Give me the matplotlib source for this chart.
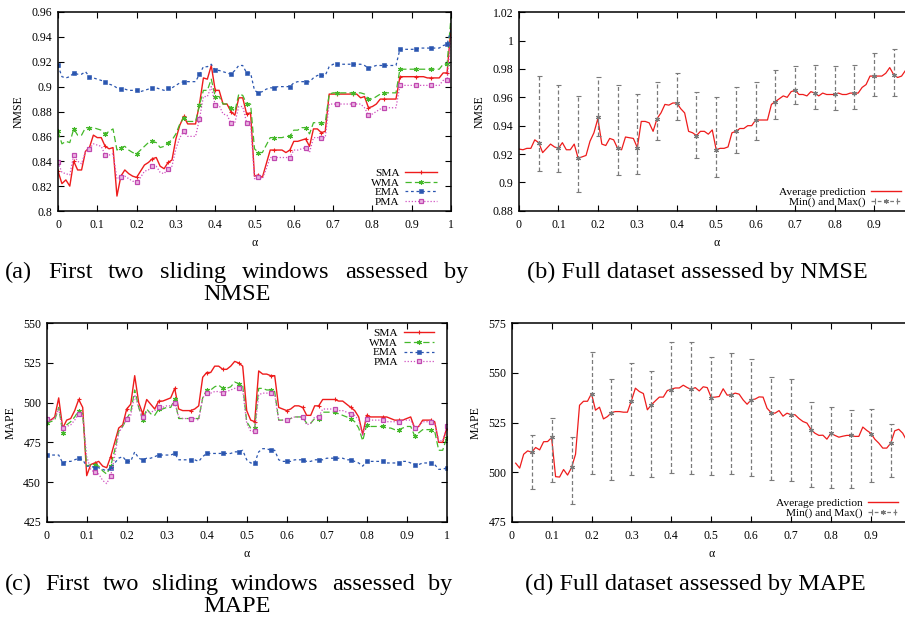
import numpy as np
import matplotlib
matplotlib.use("Agg")
import matplotlib.pyplot as plt
from matplotlib.lines import Line2D
from matplotlib.ticker import FuncFormatter, MultipleLocator
from matplotlib.legend_handler import HandlerTuple, HandlerLine2D

# ---------------- data ----------------
alpha = np.linspace(0, 1, 101)

a_sma = [0.832, 0.822, 0.825, 0.820, 0.840, 0.833, 0.833, 0.848, 0.851, 0.861,
         0.859, 0.859, 0.852, 0.850, 0.851, 0.812, 0.828, 0.833, 0.830, 0.828,
         0.827, 0.832, 0.837, 0.839, 0.842, 0.843, 0.836, 0.834, 0.839, 0.841,
         0.858, 0.869, 0.876, 0.870, 0.870, 0.870, 0.886, 0.907, 0.906, 0.917,
         0.897, 0.897, 0.886, 0.886, 0.880, 0.877, 0.891, 0.891, 0.878, 0.879,
         0.828, 0.829, 0.827, 0.838, 0.849, 0.849, 0.849, 0.849, 0.847, 0.849,
         0.856, 0.856, 0.857, 0.858, 0.852, 0.866, 0.866, 0.863, 0.864, 0.894,
         0.894, 0.894, 0.894, 0.894, 0.894, 0.894, 0.894, 0.891, 0.892, 0.883,
         0.884, 0.886, 0.890, 0.890, 0.890, 0.890, 0.890, 0.908, 0.908, 0.908,
         0.908, 0.908, 0.908, 0.908, 0.907, 0.907, 0.907, 0.907, 0.911, 0.911,
         0.948]
a_wma = [0.864, 0.854, 0.856, 0.855, 0.866, 0.861, 0.861, 0.867, 0.867, 0.867,
         0.866, 0.865, 0.862, 0.864, 0.866, 0.849, 0.851, 0.852, 0.849, 0.847,
         0.846, 0.849, 0.852, 0.855, 0.856, 0.855, 0.851, 0.852, 0.855, 0.857,
         0.862, 0.870, 0.875, 0.872, 0.872, 0.872, 0.885, 0.897, 0.897, 0.906,
         0.892, 0.892, 0.886, 0.886, 0.883, 0.880, 0.894, 0.893, 0.886, 0.886,
         0.850, 0.847, 0.847, 0.853, 0.859, 0.859, 0.859, 0.859, 0.860, 0.860,
         0.865, 0.865, 0.867, 0.867, 0.862, 0.871, 0.871, 0.871, 0.871, 0.894,
         0.895, 0.895, 0.895, 0.895, 0.895, 0.895, 0.895, 0.895, 0.894, 0.890,
         0.890, 0.892, 0.894, 0.895, 0.895, 0.895, 0.895, 0.914, 0.914, 0.914,
         0.914, 0.914, 0.914, 0.914, 0.914, 0.914, 0.914, 0.914, 0.918, 0.918,
         0.956]
a_ema = [0.917, 0.908, 0.907, 0.908, 0.911, 0.910, 0.910, 0.912, 0.908, 0.907,
         0.906, 0.905, 0.904, 0.902, 0.901, 0.899, 0.898, 0.898, 0.897, 0.897,
         0.897, 0.896, 0.897, 0.898, 0.899, 0.899, 0.898, 0.897, 0.899, 0.899,
         0.901, 0.903, 0.904, 0.904, 0.904, 0.904, 0.910, 0.916, 0.916, 0.918,
         0.913, 0.913, 0.912, 0.911, 0.910, 0.913, 0.917, 0.917, 0.911, 0.911,
         0.897, 0.895, 0.896, 0.898, 0.899, 0.899, 0.900, 0.900, 0.900, 0.900,
         0.903, 0.904, 0.904, 0.904, 0.904, 0.907, 0.909, 0.909, 0.909, 0.916,
         0.918, 0.918, 0.918, 0.918, 0.918, 0.918, 0.918, 0.918, 0.917, 0.915,
         0.916, 0.917, 0.917, 0.917, 0.917, 0.917, 0.917, 0.930, 0.930, 0.930,
         0.930, 0.930, 0.931, 0.931, 0.931, 0.931, 0.931, 0.931, 0.933, 0.934,
         0.946]
a_pma = [0.839, 0.831, 0.830, 0.829, 0.845, 0.840, 0.838, 0.848, 0.850, 0.854,
         0.853, 0.852, 0.845, 0.845, 0.846, 0.826, 0.827, 0.828, 0.826, 0.824,
         0.823, 0.827, 0.832, 0.833, 0.836, 0.836, 0.831, 0.830, 0.834, 0.836,
         0.850, 0.859, 0.864, 0.860, 0.860, 0.860, 0.874, 0.892, 0.892, 0.900,
         0.885, 0.885, 0.878, 0.877, 0.871, 0.871, 0.884, 0.884, 0.871, 0.871,
         0.826, 0.827, 0.826, 0.834, 0.843, 0.843, 0.843, 0.843, 0.843, 0.843,
         0.849, 0.849, 0.850, 0.851, 0.847, 0.859, 0.859, 0.859, 0.859, 0.886,
         0.886, 0.886, 0.886, 0.886, 0.886, 0.886, 0.886, 0.886, 0.883, 0.877,
         0.878, 0.880, 0.882, 0.883, 0.883, 0.883, 0.883, 0.901, 0.901, 0.901,
         0.901, 0.901, 0.901, 0.901, 0.901, 0.901, 0.901, 0.901, 0.905, 0.905,
         0.940]

b_avg = [0.9235, 0.923, 0.924, 0.924, 0.930, 0.928, 0.921, 0.924, 0.927, 0.925,
         0.924, 0.928, 0.923, 0.923, 0.927, 0.917, 0.918, 0.919, 0.929, 0.935,
         0.945, 0.927, 0.926, 0.931, 0.930, 0.924, 0.923, 0.932, 0.9315, 0.931,
         0.9245, 0.943, 0.943, 0.942, 0.936, 0.945, 0.949, 0.955, 0.9545, 0.956,
         0.956, 0.952, 0.949, 0.936, 0.935, 0.933, 0.936, 0.936, 0.934, 0.937,
         0.923, 0.924, 0.924, 0.925, 0.935, 0.936, 0.938, 0.938, 0.940, 0.940,
         0.944, 0.944, 0.944, 0.944, 0.955, 0.957, 0.959, 0.961, 0.960, 0.964,
         0.965, 0.962, 0.962, 0.961, 0.964, 0.963, 0.961, 0.963, 0.962, 0.962,
         0.962, 0.963, 0.962, 0.962, 0.963, 0.963, 0.963, 0.967, 0.969, 0.975,
         0.975, 0.975, 0.975, 0.977, 0.981, 0.976, 0.974, 0.975, 0.979, 0.980,
         0.980]
bar_alpha = [0.05, 0.10, 0.15, 0.20, 0.25, 0.30, 0.35, 0.40, 0.45, 0.50,
             0.55, 0.60, 0.65, 0.70, 0.75, 0.80, 0.85, 0.90, 0.95]
b_mid = [0.928, 0.924, 0.917, 0.946, 0.924, 0.924, 0.945, 0.956, 0.933, 0.923,
         0.936, 0.944, 0.957, 0.965, 0.963, 0.962, 0.963, 0.975, 0.976]
b_max = [0.975, 0.969, 0.961, 0.974, 0.969, 0.962, 0.971, 0.977, 0.964, 0.960,
         0.967, 0.971, 0.979, 0.982, 0.983, 0.982, 0.983, 0.991, 0.994]
b_min = [0.908, 0.907, 0.893, 0.933, 0.905, 0.906, 0.930, 0.944, 0.917, 0.904,
         0.921, 0.930, 0.945, 0.955, 0.952, 0.951, 0.952, 0.961, 0.961]

c_sma = [490, 489, 491, 503, 484, 489, 490, 495, 502, 497,
         454, 461, 462, 463, 460, 459, 466, 475, 484, 486,
         496, 499, 517, 500, 493, 502, 499, 496, 501, 501,
         502, 503, 509, 496, 495, 495, 495, 496, 498, 516,
         519, 519, 523, 523, 521, 521, 523, 526, 525, 523,
         495, 489, 488, 520, 518, 518, 517, 517, 497, 496,
         495, 496, 498, 498, 497, 492, 492, 498, 498, 502,
         502, 502, 502, 501, 501, 499, 497, 495, 491, 480,
         492, 491, 491, 491, 491, 491, 490, 489, 489, 489,
         490, 491, 484, 485, 489, 489, 489, 488, 475, 475,
         484]
c_wma = [487, 488, 489, 497, 481, 486, 488, 491, 495, 493,
         460, 461, 461, 460, 457, 455, 460, 470, 482, 485,
         490, 494, 508, 497, 489, 496, 493, 492, 496, 496,
         497, 497, 502, 490, 490, 490, 490, 490, 490, 503,
         508, 508, 510, 511, 509, 509, 510, 513, 512, 511,
         488, 484, 484, 509, 509, 508, 508, 507, 489, 489,
         489, 490, 491, 491, 491, 487, 487, 490, 490, 494,
         494, 494, 494, 493, 492, 491, 490, 488, 484, 476,
         486, 485, 485, 485, 485, 484, 484, 483, 483, 484,
         485, 485, 479, 481, 483, 483, 483, 482, 470, 470,
         478]
c_ema = [467, 467, 467, 467, 462, 463, 463, 464, 465, 464,
         460, 460, 459, 459, 458, 457, 459, 462, 465, 466,
         463, 463, 469, 465, 464, 465, 465, 466, 467, 467,
         467, 467, 468, 464, 464, 464, 464, 464, 463, 466,
         468, 468, 468, 468, 468, 468, 468, 469, 469, 470,
         464, 462, 462, 469, 471, 471, 470, 470, 464, 463,
         463, 463, 464, 464, 464, 463, 463, 464, 464, 464,
         465, 465, 465, 465, 465, 464, 464, 463, 462, 460,
         463, 463, 463, 463, 463, 462, 462, 462, 462, 463,
         463, 462, 461, 461, 462, 462, 462, 461, 458, 458,
         459]
c_pma = [490, 489, 490, 496, 484, 485, 486, 489, 493, 492,
         466, 458, 456, 455, 451, 449, 454, 466, 481, 485,
         490, 492, 505, 497, 491, 494, 494, 495, 497, 497,
         498, 498, 500, 491, 490, 490, 490, 490, 489, 503,
         506, 506, 507, 507, 506, 507, 508, 509, 509, 508,
         487, 482, 482, 505, 506, 506, 506, 505, 489, 489,
         489, 490, 491, 491, 491, 486, 487, 491, 491, 496,
         496, 496, 496, 495, 495, 494, 493, 492, 489, 479,
         490, 489, 489, 489, 489, 488, 488, 488, 488, 489,
         489, 489, 484, 485, 488, 488, 488, 487, 476, 476,
         485]

d_alpha = alpha[1:100]
d_avg = [504.5, 502, 509, 510.7, 510, 512.4, 511.2, 515.3, 515.4, 517.4,
         497.7, 497.5, 501.3, 498.5, 502.3, 509, 533.7, 535.7, 535.7, 539.6,
         531.2, 532.7, 526.8, 528, 530, 530.5, 530.5, 530.2, 530.2, 536,
         542.3, 540.6, 539.6, 531.4, 533.9, 535.9, 537.8, 537.8, 541.1, 541.8,
         542.4, 542.4, 543.8, 542.6, 541.6, 542.6, 540.9, 543, 542.6, 537.6,
         537.8, 538.1, 542, 538.8, 538.9, 539.8, 539.3, 536.4, 534.2, 536.4,
         536.8, 537.9, 537.8, 532.2, 530, 529.7, 531, 528.2, 529.7, 528.9,
         528.9, 527, 525.5, 524.7, 521.5, 519.6, 518.5, 518.6, 516.6, 519.6,
         518.5, 517.6, 518.1, 518.5, 518.5, 518, 518, 522.7, 521, 519.6,
         516.6, 514.6, 512.1, 512.1, 514.6, 520.8, 521.6, 519.6, 515.8]
d_mid = [509.9, 517.8, 502.5, 539.6, 530, 536, 533.6, 541.6, 541.8, 537.2,
         538.9, 536.4, 530, 528.9, 521.3, 519.6, 518.5, 519.3, 514.6]
d_max = [518.8, 527.2, 517.8, 560.7, 546.8, 555.2, 551.2, 565.6, 565.6, 557.9,
         560, 557, 548, 546.8, 535.2, 533, 531.2, 531.7, 524.3]
d_min = [491.4, 494.8, 483.9, 499, 496, 498.3, 497.5, 499.3, 499, 498.5,
         499, 498.2, 496.1, 495.3, 492.4, 491.9, 491.9, 495, 497.3]

ma_labels = ["SMA", "WMA", "EMA", "PMA"]
captions = {
    "a": ["(a)", "First", "two", "sliding", "windows", "assessed", "by"],
    "b": "(b) Full dataset assessed by NMSE",
    "c": ["(c)", "First", "two", "sliding", "windows", "assessed", "by"],
    "d": "(d) Full dataset assessed by MAPE",
}

# ---------------- style ----------------
SERIF = ["Liberation Serif", "DejaVu Serif"]
plt.rcParams["font.family"] = SERIF
W, H = 905, 620
fig = plt.figure(figsize=(W / 100, H / 100), dpi=100)

C_RED = "#ee1c1c"
C_GREEN = "#44b82a"
C_BLUE = "#2b56b0"
C_PINK = "#d050c0"
C_GRAY = "#7a7a7a"
TFS = 8.5
LFS = 8.2
LSP = -0.03


def add_ax(l, r, t, b):
    return fig.add_axes([l / W, 1 - b / H, (r - l) / W, (b - t) / H])


def style(ax, ylab, ylim, ystep, hide_last_x=False):
    ax.set_xlim(0, 1)
    ax.set_ylim(*ylim)
    ax.xaxis.set_major_locator(MultipleLocator(0.1))
    ax.yaxis.set_major_locator(MultipleLocator(ystep))
    ax.yaxis.set_major_formatter(FuncFormatter(lambda v, p: f"{round(v, 6):g}"))
    if hide_last_x:
        ax.xaxis.set_major_formatter(FuncFormatter(
            lambda v, p: "" if v > 0.95 else f"{round(v, 6):g}"))
    else:
        ax.xaxis.set_major_formatter(FuncFormatter(lambda v, p: f"{round(v, 6):g}"))
    ax.tick_params(direction="in", top=True, right=True, length=4, width=0.8,
                   labelsize=TFS)
    ax.tick_params(axis="x", pad=6)
    ax.tick_params(axis="y", pad=4)
    for s in ax.spines.values():
        s.set_linewidth(1.1)
    ax.set_ylabel(ylab, fontsize=8.5, labelpad=5)
    ax.set_xlabel("α", fontsize=8.5, labelpad=4)


mark_a = [0, 4, 8, 12, 16, 20, 24, 28, 32, 36, 40, 44, 48, 51, 55, 59, 63, 67,
          71, 75, 79, 83, 87, 91, 95, 99]


def ma_plot(ax, ys, markevery):
    s1, s2, s3, s4 = ys
    ax.plot(alpha, s1, color=C_RED, lw=1.0, marker="+", ms=3.5, mew=0.8,
            markevery=markevery, label=ma_labels[0])
    ax.plot(alpha, s2, color=C_GREEN, lw=0.9, ls=(0, (5, 2.5)), marker=(6, 2, 0),
            ms=3.5, mew=0.8, markevery=markevery, label=ma_labels[1])
    ax.plot(alpha, s3, color=C_BLUE, lw=0.9, ls=(0, (2.2, 2.2)), marker="s",
            ms=2.8, mew=0.4, markevery=markevery, label=ma_labels[2])
    ax.plot(alpha, s4, color=C_PINK, lw=0.9, ls=(0, (1, 1.5)), marker="s",
            ms=3.4, mew=0.9, mfc="#eab5e2", mec="#c048b0", markevery=markevery,
            label=ma_labels[3])


# (a)
ax_a = add_ax(58, 451, 12, 211)
ma_plot(ax_a, [a_sma, a_wma, a_ema, a_pma], mark_a)
style(ax_a, "NMSE", (0.8, 0.96), 0.02)
ax_a.legend(loc="lower right", bbox_to_anchor=(0.965, 0.02), frameon=False,
            markerfirst=False, fontsize=LFS, handlelength=2.8, handletextpad=0.5,
            labelspacing=LSP, borderpad=0, borderaxespad=0)

# (c)
ax_c = add_ax(46.7, 446.7, 323.3, 521.7)
ma_plot(ax_c, [c_sma, c_wma, c_ema, c_pma], 4)
style(ax_c, "MAPE", (425, 550), 25)
ax_c.legend(loc="upper right", bbox_to_anchor=(0.967, 0.975), frameon=False,
            markerfirst=False, fontsize=LFS, handlelength=2.6, handletextpad=0.5,
            labelspacing=LSP, borderpad=0, borderaxespad=0)


def full_plot(ax, xs, avg, mid, mn, mx):
    ax.plot(xs, avg, color=C_RED, lw=0.9)
    mid = np.array(mid)
    eb = ax.errorbar(bar_alpha, mid, yerr=[mid - np.array(mn), np.array(mx) - mid],
                     fmt="none", ecolor=C_GRAY, elinewidth=0.9, capsize=1.8,
                     capthick=0.8)
    eb[2][0].set_linestyle((0, (3.2, 2)))
    ax.plot(bar_alpha, mid, ls="none", marker=(6, 2, 0), ms=3.5, mew=0.8,
            color=C_GRAY)
    h_avg = Line2D([], [], color=C_RED, lw=1.0)
    h_line = Line2D([], [], color=C_GRAY, lw=0.9, ls=(0, (3, 2)),
                    marker=(6, 2, 0), ms=3.5, mew=0.8)
    h_caps = Line2D([], [], color=C_GRAY, ls="none", marker="|", ms=4, mew=0.8)
    ax.legend([h_avg, (h_line, h_caps)], ["Average prediction", "Min() and Max()"],
              handler_map={h_caps: HandlerLine2D(numpoints=2),
                           tuple: HandlerTuple(ndivide=1, pad=0)},
              loc="lower right", bbox_to_anchor=(0.968, 0.018), frameon=False,
              markerfirst=False, fontsize=LFS, handlelength=2.6, handletextpad=0.5,
              labelspacing=LSP, borderpad=0, borderaxespad=0)


# (b)
ax_b = add_ax(519, 913.4, 12.3, 210.7)
full_plot(ax_b, alpha, b_avg, b_mid, b_min, b_max)
style(ax_b, "NMSE", (0.88, 1.02), 0.02, hide_last_x=True)

# (d)
ax_d = add_ax(511.7, 910.7, 323.3, 521.7)
full_plot(ax_d, d_alpha, d_avg, d_mid, d_min, d_max)
style(ax_d, "MAPE", (475, 575), 25, hide_last_x=True)

# ---------------- captions ----------------
CFS = 17.5
renderer = fig.canvas.get_renderer()


def justified(words, x0, x1, ybase):
    texts = [fig.text(0, 1 - ybase / H, w, fontsize=CFS, va="baseline",
                      ha="left") for w in words]
    widths = [t.get_window_extent(renderer).width for t in texts]
    gap = (x1 - x0 - sum(widths)) / (len(words) - 1)
    x = x0
    for t, w in zip(texts, widths):
        t.set_x(x / W)
        x += w + gap


justified(captions["a"], 5, 468, 278)
fig.text(237 / W, 1 - 300 / H, "NMSE", fontsize=CFS, va="baseline", ha="center")
fig.text(697 / W, 1 - 278 / H, captions["b"], fontsize=CFS, va="baseline",
         ha="center")
justified(captions["c"], 5, 452, 590)
fig.text(237 / W, 1 - 612 / H, "MAPE", fontsize=CFS, va="baseline", ha="center")
fig.text(695 / W, 1 - 590 / H, captions["d"], fontsize=CFS, va="baseline",
         ha="center")

fig.savefig("out.png", dpi=100)
